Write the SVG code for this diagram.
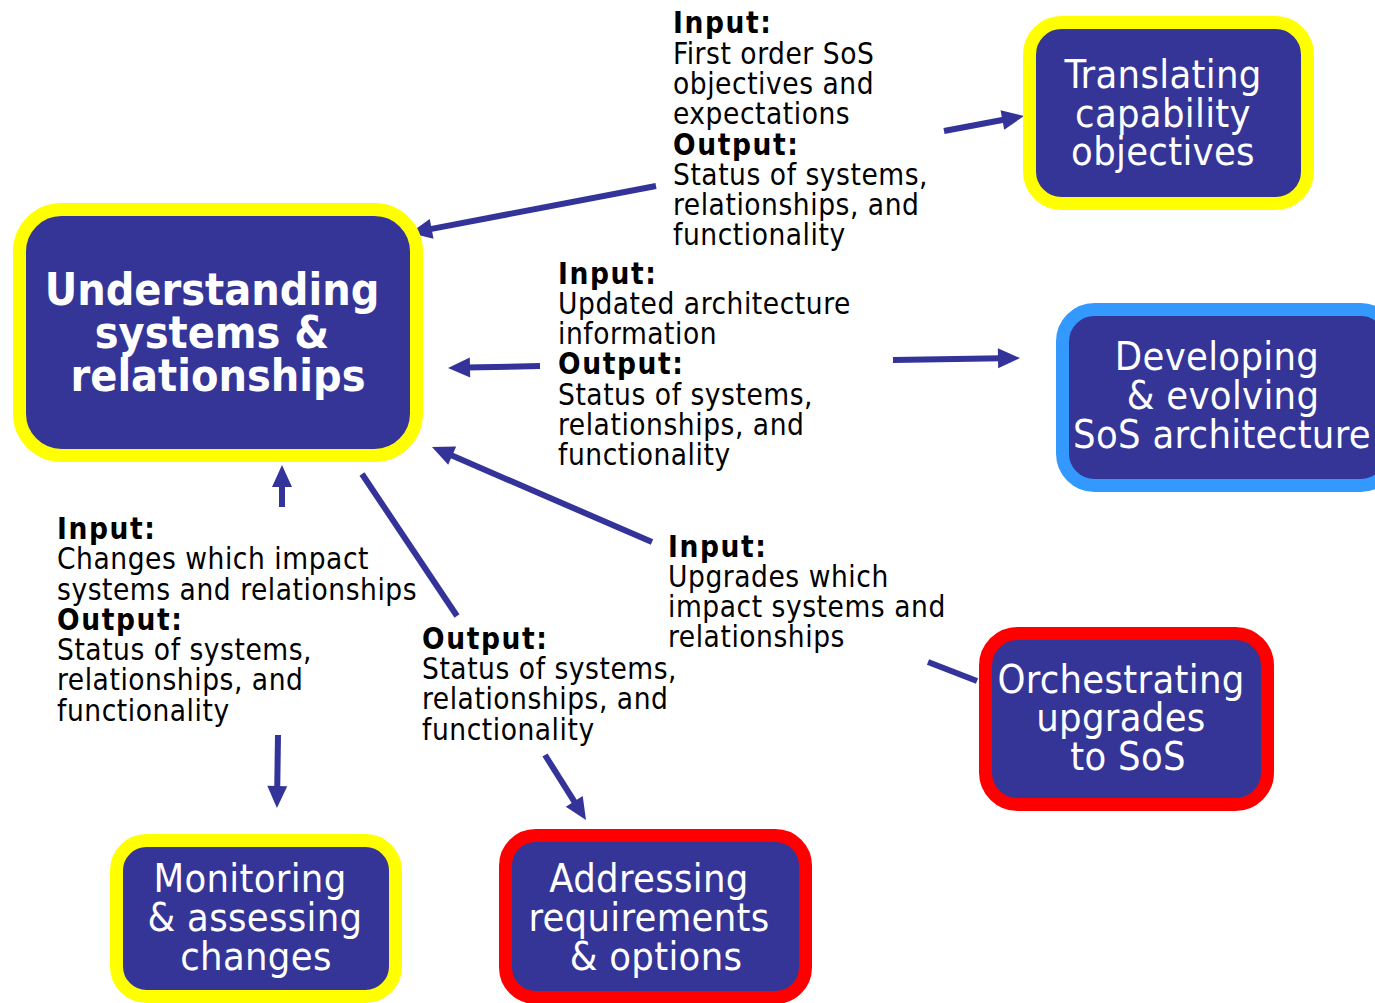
<svg xmlns="http://www.w3.org/2000/svg" width="1375" height="1003" viewBox="0 0 1375 1003">
<style>
.box{fill:#353598;stroke-width:13}
.yel{stroke:#ffff00}
.blu{stroke:#3399ff}
.red{stroke:#ff0000}
.nt{font-family:"DejaVu Sans Condensed","DejaVu Sans",sans-serif;font-size:39.5px;letter-spacing:0.3px;fill:#ffffff;text-anchor:middle}
.nb{font-family:"DejaVu Sans Condensed","DejaVu Sans",sans-serif;font-size:44.5px;font-weight:bold;fill:#ffffff;text-anchor:middle}
.lab{font-family:"DejaVu Sans Condensed","DejaVu Sans",sans-serif;font-size:29.5px;letter-spacing:0.55px;fill:#000000}
.b{font-weight:bold;letter-spacing:1.6px}
.con line{stroke:#333399;stroke-width:6;fill:none}
</style>
<defs>
<marker id="ah" markerUnits="userSpaceOnUse" markerWidth="22" markerHeight="20" refX="4" refY="10" orient="auto" overflow="visible">
<path d="M0,0 L22,10 L0,20 z" fill="#333399"/>
</marker>
</defs>
<g id="connectors" class="con">
<line x1="944" y1="131" x2="1006.3" y2="119.3" marker-end="url(#ah)"/>
<line x1="656" y1="186" x2="427.7" y2="229.6" marker-end="url(#ah)"/>
<line x1="540" y1="366" x2="466" y2="367.6" marker-end="url(#ah)"/>
<line x1="893" y1="360" x2="1002" y2="358.3" marker-end="url(#ah)"/>
<line x1="652" y1="542" x2="448.5" y2="454.1" marker-end="url(#ah)"/>
<line x1="928" y1="662" x2="977" y2="681"/>
<line x1="362" y1="474" x2="457" y2="616"/>
<line x1="545" y1="755" x2="576.4" y2="804.8" marker-end="url(#ah)"/>
<line x1="282" y1="507" x2="282" y2="483" marker-end="url(#ah)"/>
<line x1="278" y1="735" x2="277.2" y2="790" marker-end="url(#ah)"/>
</g>
<g id="understanding">
<rect class="box yel" x="19.5" y="209.5" width="397" height="246" rx="42"/>
<text class="nb"><tspan x="212" y="305">Understanding</tspan><tspan x="212" y="348">systems &amp;</tspan><tspan x="218" y="391">relationships</tspan></text>
</g>
<g id="translating">
<rect class="box yel" x="1029.5" y="22.5" width="278" height="181" rx="32"/>
<text class="nt"><tspan x="1163" y="88">Translating</tspan><tspan x="1163" y="127">capability</tspan><tspan x="1163" y="165">objectives</tspan></text>
</g>
<g id="developing">
<rect class="box blu" x="1062.5" y="309.5" width="330" height="176" rx="32"/>
<text class="nt"><tspan x="1217" y="370">Developing</tspan><tspan x="1223" y="409">&amp; evolving</tspan><tspan x="1222" y="448">SoS architecture</tspan></text>
</g>
<g id="orchestrating">
<rect class="box red" x="985.5" y="633.5" width="282" height="171" rx="32"/>
<text class="nt"><tspan x="1121" y="693">Orchestrating</tspan><tspan x="1121" y="731">upgrades</tspan><tspan x="1128" y="770">to SoS</tspan></text>
</g>
<g id="monitoring">
<rect class="box yel" x="116.5" y="840.5" width="279" height="156" rx="30"/>
<text class="nt"><tspan x="250" y="892">Monitoring</tspan><tspan x="255" y="931">&amp; assessing</tspan><tspan x="256" y="970">changes</tspan></text>
</g>
<g id="addressing">
<rect class="box red" x="505.5" y="835.5" width="300" height="162" rx="30"/>
<text class="nt"><tspan x="649" y="892">Addressing</tspan><tspan x="649" y="931">requirements</tspan><tspan x="656" y="970">&amp; options</tspan></text>
</g>
<g id="labels">
<text class="lab"><tspan class="b" x="673" y="33">Input:</tspan><tspan x="673" y="64">First order SoS</tspan><tspan x="673" y="94">objectives and</tspan><tspan x="673" y="124">expectations</tspan><tspan class="b" x="673" y="155">Output:</tspan><tspan x="673" y="185">Status of systems,</tspan><tspan x="673" y="215">relationships, and</tspan><tspan x="673" y="245">functionality</tspan></text>
<text class="lab"><tspan class="b" x="558" y="284">Input:</tspan><tspan x="558" y="314">Updated architecture</tspan><tspan x="558" y="344">information</tspan><tspan class="b" x="558" y="374">Output:</tspan><tspan x="558" y="405">Status of systems,</tspan><tspan x="558" y="435">relationships, and</tspan><tspan x="558" y="465">functionality</tspan></text>
<text class="lab"><tspan class="b" x="57" y="539">Input:</tspan><tspan x="57" y="569">Changes which impact</tspan><tspan x="57" y="600">systems and relationships</tspan><tspan class="b" x="57" y="630">Output:</tspan><tspan x="57" y="660">Status of systems,</tspan><tspan x="57" y="690">relationships, and</tspan><tspan x="57" y="721">functionality</tspan></text>
<text class="lab"><tspan class="b" x="422" y="649">Output:</tspan><tspan x="422" y="679">Status of systems,</tspan><tspan x="422" y="709">relationships, and</tspan><tspan x="422" y="740">functionality</tspan></text>
<text class="lab"><tspan class="b" x="668" y="557">Input:</tspan><tspan x="668" y="587">Upgrades which</tspan><tspan x="668" y="617">impact systems and</tspan><tspan x="668" y="647">relationships</tspan></text>
</g>
</svg>
